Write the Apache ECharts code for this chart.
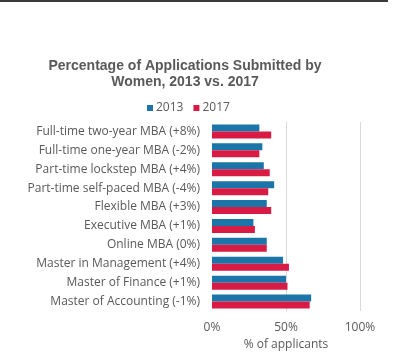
<!DOCTYPE html>
<html>
<head>
<meta charset="utf-8">
<script src="https://cdn.jsdelivr.net/npm/echarts@6/dist/echarts.min.js"></script>
<style>
html,body{margin:0;padding:0;background:#fff;}
#wrap{position:relative;width:400px;height:361px;}
#topline{position:absolute;left:0;top:0;width:388px;height:2px;background:#3a3a3a;}
#chart{position:absolute;left:0;top:0;width:400px;height:361px;}
</style>
</head>
<body>
<div id="wrap"><div id="chart"></div><div id="topline"></div></div>
<script>
const categories = [
  "Full-time two-year MBA (+8%)",
  "Full-time one-year MBA (-2%)",
  "Part-time lockstep MBA (+4%)",
  "Part-time self-paced MBA (-4%)",
  "Flexible MBA (+3%)",
  "Executive MBA (+1%)",
  "Online MBA (0%)",
  "Master in Management (+4%)",
  "Master of Finance (+1%)",
  "Master of Accounting (-1%)"
];
const values2013 = [32, 34, 35, 42, 37, 28, 37, 48, 50, 67];
const values2017 = [40, 32, 39, 38, 40, 29, 37, 52, 51, 66];
const seriesNames = ["2013", "2017"];
const xTicks = [0, 50, 100];

const FONT = "'Open Sans', 'Liberation Sans', sans-serif";
const chart = echarts.init(document.getElementById('chart'), null, {renderer: 'canvas'});
chart.setOption({
  animation: false,
  backgroundColor: '#fff',
  title: {
    text: 'Percentage of Applications Submitted by\nWomen, 2013 vs. 2017',
    left: 180,
    textAlign: 'center',
    top: 53,
    textStyle: {fontFamily: 'Liberation Sans, Arial, sans-serif', fontWeight: 'bold', fontSize: 14, color: '#595959', lineHeight: 16}
  },
  legend: {
    data: seriesNames,
    top: 97,
    left: 142,
    itemWidth: 6,
    itemHeight: 6,
    itemGap: 10,
    icon: 'rect',
    textStyle: {fontFamily: FONT, fontSize: 12, color: '#595959', padding: [0, 0, 0, -2]}
  },
  grid: {left: 212, right: 40, top: 122, bottom: 50, containLabel: false},
  xAxis: {
    type: 'value',
    min: xTicks[0],
    max: xTicks[xTicks.length - 1],
    interval: 50,
    name: '% of applicants',
    nameLocation: 'middle',
    nameGap: 23,
    nameTextStyle: {fontFamily: FONT, fontSize: 12, color: '#595959'},
    axisLine: {show: false},
    axisTick: {show: false},
    axisLabel: {formatter: '{value}%', fontFamily: FONT, fontSize: 12, color: '#595959', margin: 11},
    splitLine: {show: true, lineStyle: {color: ['rgba(0,0,0,0)', '#d9d9d9', '#d9d9d9'], width: 1}}
  },
  yAxis: {
    type: 'category',
    data: categories,
    inverse: true,
    axisLine: {show: false},
    axisTick: {show: false},
    axisLabel: {fontFamily: FONT, fontSize: 12, color: '#595959', margin: 12}
  },
  series: [
    {name: seriesNames[0], type: 'bar', data: values2013, itemStyle: {color: '#1B75A8'}, barGap: '0%', barCategoryGap: '26%'},
    {name: seriesNames[1], type: 'bar', data: values2017, itemStyle: {color: '#D81B45'}, barGap: '0%', barCategoryGap: '26%'}
  ]
});
</script>
</body>
</html>
